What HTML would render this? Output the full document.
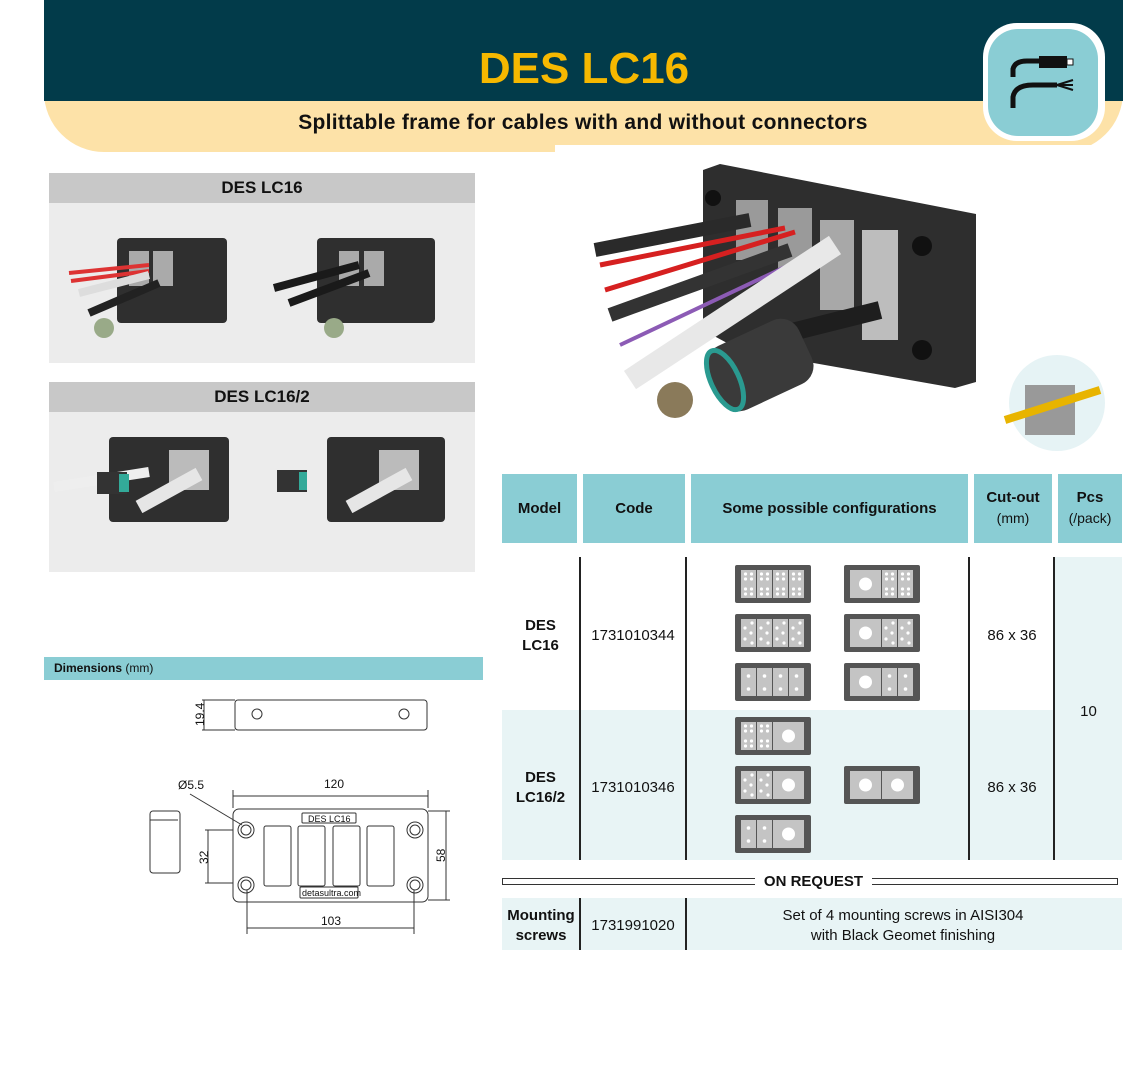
<!DOCTYPE html>
<html><head><meta charset="utf-8"><style>
*{margin:0;padding:0;box-sizing:border-box}
body{width:1148px;height:1075px;background:#fff;position:relative;overflow:hidden;font-family:"Liberation Sans",sans-serif;color:#111}
.a{position:absolute}
.th{position:absolute;background:#8acdd4;font-weight:bold;font-size:15px;display:flex;align-items:center;justify-content:center;text-align:center;line-height:20px;top:474px;height:69px}
.c{position:absolute;font-size:15px;text-align:center;line-height:20px}
.vl{position:absolute;width:1.5px;background:#222}
</style></head><body>
<!-- header -->
<div class="a" style="left:44px;top:0;width:1079px;height:152px;background:#fde2a8;border-radius:0 0 60px 60px"></div>
<div class="a" style="left:44px;top:0;width:1079px;height:101px;background:#023b4a"></div>
<div class="a" style="left:555px;top:145px;width:580px;height:10px;background:#fff"></div>
<div class="a" style="left:0;top:44px;width:1148px;text-align:center;padding-left:20px;font-size:44px;font-weight:bold;color:#f6b800;line-height:50px">DES LC16</div>
<div class="a" style="left:0;top:110px;width:1166px;text-align:center;font-size:21px;font-weight:bold;line-height:26px;letter-spacing:0.3px">Splittable frame for cables with and without connectors</div>
<div class="a" style="left:983px;top:23px;width:122px;height:118px;background:#fff;border-radius:34px"></div>
<div class="a" style="left:988px;top:29px;width:110px;height:107px;background:#8acdd4;border-radius:30px"></div>
<svg class="a" style="left:1005px;top:55px" width="75" height="60"><path d="M8 22 V14 Q10 6 22 6 H34" stroke="#111" stroke-width="5" fill="none"/><rect x="34" y="1" width="28" height="12" fill="#111"/><rect x="62" y="4" width="6" height="6" fill="#fff" stroke="#111"/><path d="M8 53 V42 Q10 30 28 30 H52" stroke="#111" stroke-width="5" fill="none"/><path d="M52 30 L68 25 M52 30 L68 30 M52 30 L68 35" stroke="#111" stroke-width="2"/></svg>

<!-- left panels -->
<div class="a" style="left:49px;top:173px;width:426px;height:30px;background:#c8c8c8;font-weight:bold;font-size:17px;text-align:center;line-height:30px">DES LC16</div>
<div class="a" style="left:49px;top:203px;width:426px;height:160px;background:#ececec"></div>
<div class="a" style="left:49px;top:382px;width:426px;height:30px;background:#c8c8c8;font-weight:bold;font-size:17px;text-align:center;line-height:30px">DES LC16/2</div>
<div class="a" style="left:49px;top:412px;width:426px;height:160px;background:#ececec"></div>
<svg class="a" style="left:49px;top:203px" width="426" height="369">
<g><rect x="68" y="35" width="110" height="85" rx="4" fill="#2f2f2f"/><rect x="80" y="48" width="20" height="35" fill="#aaa"/><rect x="104" y="48" width="20" height="35" fill="#aaa"/><path d="M20 70 L100 62 M22 78 L100 68" stroke="#d33" stroke-width="4"/><path d="M30 90 L100 72" stroke="#ddd" stroke-width="8"/><path d="M40 110 L110 80" stroke="#222" stroke-width="8"/><circle cx="55" cy="125" r="10" fill="#9a8" /></g>
<g><rect x="268" y="35" width="118" height="85" rx="4" fill="#2f2f2f"/><rect x="290" y="48" width="20" height="35" fill="#aaa"/><rect x="315" y="48" width="20" height="35" fill="#aaa"/><path d="M225 85 L310 62 M240 100 L320 70" stroke="#1a1a1a" stroke-width="8"/><circle cx="285" cy="125" r="10" fill="#9a8"/></g>
<g transform="translate(0,209)"><rect x="60" y="25" width="120" height="85" rx="4" fill="#2f2f2f"/><rect x="120" y="38" width="40" height="40" fill="#bbb"/><path d="M5 75 L100 60" stroke="#eee" stroke-width="10"/><path d="M90 95 L150 62" stroke="#e6e6e6" stroke-width="14"/><rect x="48" y="60" width="30" height="22" fill="#333"/><rect x="70" y="62" width="10" height="18" fill="#3a9"/></g>
<g transform="translate(0,209)"><rect x="278" y="25" width="118" height="85" rx="4" fill="#2f2f2f"/><rect x="330" y="38" width="40" height="40" fill="#bbb"/><path d="M300 95 L360 62" stroke="#e6e6e6" stroke-width="14"/><rect x="228" y="58" width="30" height="22" fill="#333"/><rect x="250" y="60" width="8" height="18" fill="#3a9"/></g>
</svg>

<!-- main photo -->
<svg class="a" style="left:560px;top:150px" width="560" height="310">
<polygon points="143,20 160,14 416,64 416,232 395,238 180,200 143,180" fill="#2e2e2e"/>
<rect x="176" y="50" width="32" height="60" fill="#9a9a9a"/><rect x="218" y="58" width="34" height="60" fill="#9a9a9a"/><rect x="260" y="70" width="34" height="90" fill="#a8a8a8"/><rect x="302" y="80" width="36" height="110" fill="#bdbdbd"/>
<circle cx="153" cy="48" r="8" fill="#111"/><circle cx="362" cy="96" r="10" fill="#111"/><circle cx="362" cy="200" r="10" fill="#111"/>
<path d="M35 100 L190 70" stroke="#2a2a2a" stroke-width="14"/>
<path d="M40 115 L225 78 M45 140 L235 82" stroke="#d62020" stroke-width="5"/>
<path d="M50 165 L230 100" stroke="#333" stroke-width="14"/>
<path d="M60 195 L240 110" stroke="#8c5bb5" stroke-width="4"/>
<path d="M70 230 L275 95" stroke="#e8e8e8" stroke-width="22"/>
<path d="M200 190 L320 160" stroke="#1e1e1e" stroke-width="18"/>
<rect x="150" y="180" width="100" height="70" rx="20" fill="#3a3a3a" transform="rotate(-25 200 215)"/>
<ellipse cx="165" cy="230" rx="14" ry="32" fill="none" stroke="#2a9a90" stroke-width="5" transform="rotate(-25 165 230)"/>
<circle cx="115" cy="250" r="18" fill="#8a7a5a"/>
<circle cx="497" cy="253" r="48" fill="#e6f3f5"/>
<rect x="465" y="235" width="50" height="50" fill="#999"/><path d="M445 270 L540 240" stroke="#e8b400" stroke-width="8"/>
</svg>

<!-- dimensions -->
<div class="a" style="left:44px;top:657px;width:439px;height:23px;background:#8acdd4;font-size:12px;line-height:23px;padding-left:10px"><b>Dimensions</b> (mm)</div>
<svg class="a" style="left:130px;top:690px" width="330" height="250" font-family="Liberation Sans" font-size="12" fill="none" stroke="#333" stroke-width="1">
<rect x="105" y="10" width="192" height="30" rx="3"/>
<circle cx="127" cy="24" r="5"/><circle cx="274" cy="24" r="5"/>
<line x1="72" y1="10" x2="105" y2="10"/><line x1="72" y1="40" x2="105" y2="40"/><line x1="74" y1="10" x2="74" y2="40"/>
<text x="0" y="0" fill="#111" stroke="none" transform="translate(74,36) rotate(-90)">19.4</text>
<rect x="20" y="121" width="30" height="62" rx="3"/><line x1="20" y1="130" x2="48" y2="130"/>
<rect x="103" y="119" width="195" height="93" rx="6"/>
<rect x="172" y="123" width="54" height="10" rx="1"/><text x="178" y="132" font-size="9" fill="#111" stroke="none">DES LC16</text>
<rect x="170" y="197" width="58" height="11" rx="1"/><text x="172" y="206" font-size="9" fill="#111" stroke="none">detasultra.com</text>
<rect x="134" y="136" width="27" height="60" rx="2"/><rect x="168" y="136" width="27" height="60" rx="2"/><rect x="203" y="136" width="27" height="60" rx="2"/><rect x="237" y="136" width="27" height="60" rx="2"/>
<circle cx="116" cy="140" r="8"/><circle cx="116" cy="140" r="5"/><circle cx="285" cy="140" r="8"/><circle cx="285" cy="140" r="5"/>
<circle cx="116" cy="195" r="8"/><circle cx="116" cy="195" r="5"/><circle cx="285" cy="195" r="8"/><circle cx="285" cy="195" r="5"/>
<line x1="60" y1="104" x2="112" y2="135"/><text x="48" y="99" fill="#111" stroke="none">Ø5.5</text>
<line x1="103" y1="100" x2="103" y2="118"/><line x1="298" y1="100" x2="298" y2="118"/><line x1="103" y1="106" x2="298" y2="106"/><text x="194" y="98" fill="#111" stroke="none">120</text>
<line x1="298" y1="121" x2="320" y2="121"/><line x1="298" y1="210" x2="320" y2="210"/><line x1="316" y1="121" x2="316" y2="210"/>
<text x="0" y="0" fill="#111" stroke="none" transform="translate(315,172) rotate(-90)">58</text>
<line x1="75" y1="140" x2="103" y2="140"/><line x1="75" y1="193" x2="103" y2="193"/><line x1="78" y1="140" x2="78" y2="193"/>
<text x="0" y="0" fill="#111" stroke="none" transform="translate(78,174) rotate(-90)">32</text>
<line x1="117" y1="200" x2="117" y2="244"/><line x1="284" y1="200" x2="284" y2="244"/><line x1="117" y1="238" x2="284" y2="238"/><text x="191" y="235" fill="#111" stroke="none">103</text>
</svg>

<!-- table -->
<div class="th" style="left:502px;width:75px">Model</div>
<div class="th" style="left:583px;width:102px">Code</div>
<div class="th" style="left:691px;width:277px">Some possible configurations</div>
<div class="th" style="left:974px;width:78px"><div>Cut-out<br><span style="font-weight:normal;font-size:14px">(mm)</span></div></div>
<div class="th" style="left:1058px;width:64px"><div>Pcs<br><span style="font-weight:normal;font-size:14px">(/pack)</span></div></div>
<div class="a" style="left:502px;top:710px;width:620px;height:150px;background:#e8f4f5"></div>
<div class="a" style="left:1055px;top:557px;width:67px;height:153px;background:#e8f4f5"></div>
<div class="vl" style="left:579px;top:557px;height:303px"></div>
<div class="vl" style="left:685px;top:557px;height:303px"></div>
<div class="vl" style="left:968px;top:557px;height:303px"></div>
<div class="vl" style="left:1053px;top:557px;height:303px"></div>
<div class="c" style="left:502px;top:616px;width:77px;font-weight:bold">DES<br>LC16</div>
<div class="c" style="left:581px;top:626px;width:104px">1731010344</div>
<div class="c" style="left:970px;top:626px;width:84px">86 x 36</div>
<div class="c" style="left:502px;top:768px;width:77px;font-weight:bold">DES<br>LC16/2</div>
<div class="c" style="left:581px;top:778px;width:104px">1731010346</div>
<div class="c" style="left:970px;top:778px;width:84px">86 x 36</div>
<div class="c" style="left:1055px;top:702px;width:67px">10</div>

<svg class="a" style="left:690px;top:550px" width="280" height="320">
<defs>
<symbol id="d8" overflow="visible"><rect width="15" height="28" fill="#c4c4c4"/><g fill="#fff"><circle cx="4.5" cy="4" r="1.6"/><circle cx="10.5" cy="4" r="1.6"/><circle cx="4.5" cy="9" r="1.6"/><circle cx="10.5" cy="9" r="1.6"/><circle cx="4.5" cy="19" r="1.6"/><circle cx="10.5" cy="19" r="1.6"/><circle cx="4.5" cy="24" r="1.6"/><circle cx="10.5" cy="24" r="1.6"/></g></symbol>
<symbol id="d5" overflow="visible"><rect width="15" height="28" fill="#c4c4c4"/><g fill="#fff"><circle cx="11" cy="4" r="1.6"/><circle cx="4" cy="9" r="1.6"/><circle cx="10" cy="14" r="1.6"/><circle cx="4" cy="20" r="1.6"/><circle cx="11" cy="24" r="1.6"/></g></symbol>
<symbol id="d2" overflow="visible"><rect width="15" height="28" fill="#c4c4c4"/><g fill="#fff"><circle cx="7.5" cy="8" r="1.8"/><circle cx="7.5" cy="21" r="1.8"/></g></symbol>
<symbol id="bg" overflow="visible"><rect width="31" height="28" fill="#c4c4c4"/><circle cx="15.5" cy="14" r="6.5" fill="#fff"/></symbol>
<symbol id="fr" overflow="visible"><rect width="76" height="38" rx="2" fill="#555"/></symbol>
</defs>
<g transform="translate(45,15)"><use href="#fr"/><use href="#d8" x="6" y="5"/><use href="#d8" x="22" y="5"/><use href="#d8" x="38" y="5"/><use href="#d8" x="54" y="5"/></g>
<g transform="translate(45,64)"><use href="#fr"/><use href="#d5" x="6" y="5"/><use href="#d5" x="22" y="5"/><use href="#d5" x="38" y="5"/><use href="#d5" x="54" y="5"/></g>
<g transform="translate(45,113)"><use href="#fr"/><use href="#d2" x="6" y="5"/><use href="#d2" x="22" y="5"/><use href="#d2" x="38" y="5"/><use href="#d2" x="54" y="5"/></g>
<g transform="translate(154,15)"><use href="#fr"/><use href="#bg" x="6" y="5"/><use href="#d8" x="38" y="5"/><use href="#d8" x="54" y="5"/></g>
<g transform="translate(154,64)"><use href="#fr"/><use href="#bg" x="6" y="5"/><use href="#d5" x="38" y="5"/><use href="#d5" x="54" y="5"/></g>
<g transform="translate(154,113)"><use href="#fr"/><use href="#bg" x="6" y="5"/><use href="#d2" x="38" y="5"/><use href="#d2" x="54" y="5"/></g>
<g transform="translate(45,167)"><use href="#fr"/><use href="#d8" x="6" y="5"/><use href="#d8" x="22" y="5"/><use href="#bg" x="38" y="5"/></g>
<g transform="translate(45,216)"><use href="#fr"/><use href="#d5" x="6" y="5"/><use href="#d5" x="22" y="5"/><use href="#bg" x="38" y="5"/></g>
<g transform="translate(45,265)"><use href="#fr"/><use href="#d2" x="6" y="5"/><use href="#d2" x="22" y="5"/><use href="#bg" x="38" y="5"/></g>
<g transform="translate(154,216)"><use href="#fr"/><use href="#bg" x="6" y="5"/><use href="#bg" x="38" y="5"/></g>
</svg>

<!-- on request -->
<div class="a" style="left:502px;top:878px;width:253px;height:7px;border-top:1.5px solid #333;border-bottom:1.5px solid #333;border-left:1.5px solid #333"></div>
<div class="a" style="left:872px;top:878px;width:246px;height:7px;border-top:1.5px solid #333;border-bottom:1.5px solid #333;border-right:1.5px solid #333"></div>
<div class="c" style="left:755px;top:872px;width:117px;font-weight:bold">ON REQUEST</div>
<div class="a" style="left:502px;top:898px;width:620px;height:52px;background:#e8f4f5"></div>
<div class="vl" style="left:579px;top:898px;height:52px"></div>
<div class="vl" style="left:685px;top:898px;height:52px"></div>
<div class="c" style="left:502px;top:906px;width:78px;font-weight:bold">Mounting<br>screws</div>
<div class="c" style="left:581px;top:916px;width:104px">1731991020</div>
<div class="c" style="left:688px;top:906px;width:430px">Set of 4 mounting screws in AISI304<br>with Black Geomet finishing</div>
</body></html>
